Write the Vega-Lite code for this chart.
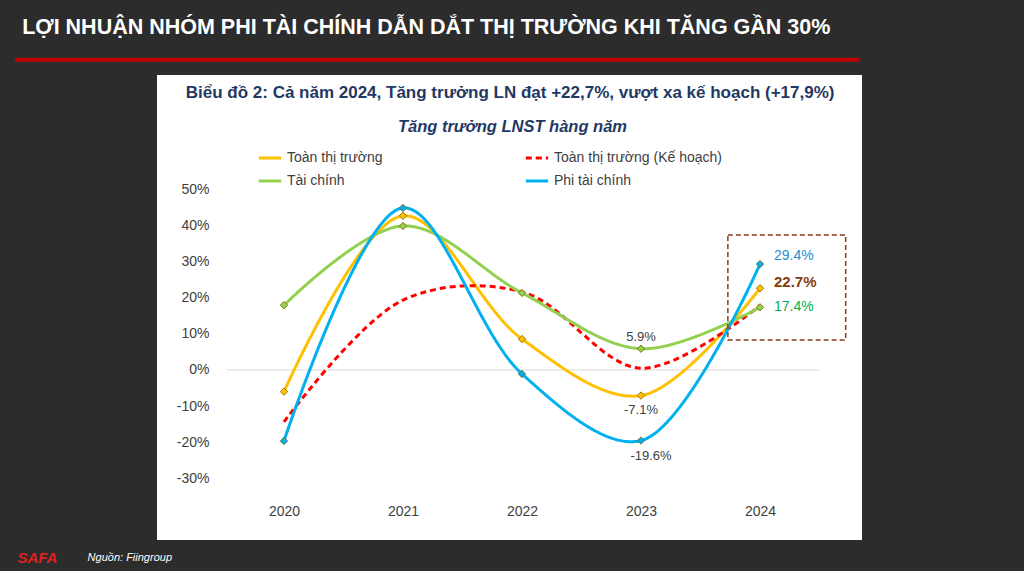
{
"$schema":"https://vega.github.io/schema/vega-lite/v6.json",
"autosize":{"type":"none"},
"width":705,"height":465,
"padding":{"left":157,"top":75,"right":162,"bottom":31},
"background":"#2c2c2c",
"config":{"view":{"fill":"#ffffff","stroke":null},"font":"Liberation Sans"},
"datasets":{
"s":[
{"year":2020,"series":"Toàn thị trường","v":-6},{"year":2021,"series":"Toàn thị trường","v":42.8},{"year":2022,"series":"Toàn thị trường","v":8.6},{"year":2023,"series":"Toàn thị trường","v":-7.1},{"year":2024,"series":"Toàn thị trường","v":22.7},
{"year":2020,"series":"Toàn thị trường (Kế hoạch)","v":-14.4},{"year":2021,"series":"Toàn thị trường (Kế hoạch)","v":19.4},{"year":2022,"series":"Toàn thị trường (Kế hoạch)","v":21.7},{"year":2023,"series":"Toàn thị trường (Kế hoạch)","v":0.5},{"year":2024,"series":"Toàn thị trường (Kế hoạch)","v":17.9},
{"year":2020,"series":"Tài chính","v":18},{"year":2021,"series":"Tài chính","v":40},{"year":2022,"series":"Tài chính","v":21.4},{"year":2023,"series":"Tài chính","v":5.9},{"year":2024,"series":"Tài chính","v":17.4},
{"year":2020,"series":"Phi tài chính","v":-19.7},{"year":2021,"series":"Phi tài chính","v":45},{"year":2022,"series":"Phi tài chính","v":-1.1},{"year":2023,"series":"Phi tài chính","v":-19.6},{"year":2024,"series":"Phi tài chính","v":29.4}
]
},
"layer":[
{"data":{"values":[{"x":2017.74,"x2":2024.84,"y":86.7,"y2":85.6}]},"mark":{"type":"rect","color":"#c00000","clip":false},
 "encoding":{"x":{"field":"x","type":"quantitative"},"x2":{"field":"x2"},"y":{"field":"y","type":"quantitative"},"y2":{"field":"y2"}}},
{"data":{"values":[{"x":2019.52,"x2":2024.5,"y":0}]},"mark":{"type":"rule","color":"#d9d9d9","strokeWidth":1},
 "encoding":{"x":{"field":"x","type":"quantitative"},"x2":{"field":"x2"},"y":{"field":"y","type":"quantitative"}}},
{"data":{"name":"s"},"mark":{"type":"line","interpolate":"catmull-rom","strokeWidth":3},
 "encoding":{
  "x":{"field":"year","type":"quantitative","scale":{"domain":[2018.933,2024.857],"nice":false,"zero":false},
   "axis":{"values":[2020,2021,2022,2023,2024],"format":"d","domain":false,"ticks":false,"grid":false,"labelPadding":0,"offset":-36,"labelFontSize":14,"labelColor":"#404040","title":null}},
  "y":{"field":"v","type":"quantitative","scale":{"domain":[-47.2,81.9],"nice":false,"zero":false},
   "axis":{"values":[-30,-20,-10,0,10,20,30,40,50],"labelExpr":"datum.value+'%'","domain":false,"ticks":false,"grid":false,"labelPadding":0,"offset":-52,"labelFontSize":14,"labelColor":"#404040","title":null}},
  "color":{"field":"series","type":"nominal","scale":{"domain":["Toàn thị trường","Tài chính","Toàn thị trường (Kế hoạch)","Phi tài chính"],"range":["#ffc000","#92d050","#ff0000","#00b0f0"]},
   "legend":{"orient":"none","legendX":100,"legendY":70,"columns":2,"title":null,"labelFontSize":14,"labelColor":"#404040","columnPadding":136,"rowPadding":3,"symbolSize":500,"symbolStrokeWidth":3,"labelLimit":300,"symbolType":"stroke"}},
  "strokeDash":{"field":"series","type":"nominal","scale":{"domain":["Toàn thị trường","Tài chính","Toàn thị trường (Kế hoạch)","Phi tài chính"],"range":[[1,0],[1,0],[6,4],[1,0]]},"legend":null}
 }},
{"data":{"name":"s"},"transform":[{"filter":"datum.series!='Toàn thị trường (Kế hoạch)'"}],
 "mark":{"type":"point","shape":"diamond","filled":true,"size":55,"stroke":"#7f6000","strokeWidth":0.8,"opacity":1},
 "encoding":{"x":{"field":"year","type":"quantitative"},"y":{"field":"v","type":"quantitative"},
  "fill":{"field":"series","type":"nominal","scale":{"domain":["Toàn thị trường","Tài chính","Toàn thị trường (Kế hoạch)","Phi tài chính"],"range":["#ffc000","#92d050","#ff0000","#00b0f0"]},"legend":null}}},
{"data":{"values":[{"x":2023.73,"x2":2024.72,"y":37.5,"y2":8.3}]},"mark":{"type":"rect","fill":null,"stroke":"#8b3a1f","strokeWidth":1.5,"strokeDash":[5,3]},
 "encoding":{"x":{"field":"x","type":"quantitative"},"x2":{"field":"x2"},"y":{"field":"y","type":"quantitative"},"y2":{"field":"y2"}}},
{"data":{"values":[{"year":2023,"v":5.9,"t":"5.9%"}]},"mark":{"type":"text","fontSize":13,"color":"#404040","dy":-12},
 "encoding":{"x":{"field":"year","type":"quantitative"},"y":{"field":"v","type":"quantitative"},"text":{"field":"t"}}},
{"data":{"values":[{"year":2023,"v":-7.1,"t":"-7.1%"}]},"mark":{"type":"text","fontSize":13,"color":"#404040","dy":14},
 "encoding":{"x":{"field":"year","type":"quantitative"},"y":{"field":"v","type":"quantitative"},"text":{"field":"t"}}},
{"data":{"values":[{"year":2023,"v":-19.6,"t":"-19.6%"}]},"mark":{"type":"text","fontSize":13,"color":"#404040","dy":15,"dx":10},
 "encoding":{"x":{"field":"year","type":"quantitative"},"y":{"field":"v","type":"quantitative"},"text":{"field":"t"}}},
{"data":{"values":[{"year":2024,"v":29.4,"t":"29.4%"}]},"mark":{"type":"text","fontSize":14,"color":"#1f8fd0","dy":-8,"dx":14,"align":"left"},
 "encoding":{"x":{"field":"year","type":"quantitative"},"y":{"field":"v","type":"quantitative"},"text":{"field":"t"}}},
{"data":{"values":[{"year":2024,"v":22.7,"t":"22.7%"}]},"mark":{"type":"text","fontSize":15,"fontWeight":"bold","color":"#843c0c","dy":-6,"dx":14,"align":"left"},
 "encoding":{"x":{"field":"year","type":"quantitative"},"y":{"field":"v","type":"quantitative"},"text":{"field":"t"}}},
{"data":{"values":[{"year":2024,"v":17.4,"t":"17.4%"}]},"mark":{"type":"text","fontSize":14,"color":"#00b050","dx":14,"align":"left"},
 "encoding":{"x":{"field":"year","type":"quantitative"},"y":{"field":"v","type":"quantitative"},"text":{"field":"t"}}},
{"data":{"values":[{"x":2017.8,"y":95,"t":"LỢI NHUẬN NHÓM PHI TÀI CHÍNH DẪN DẮT THỊ TRƯỜNG KHI TĂNG GẦN 30%"}]},"mark":{"type":"text","clip":false,"align":"left","baseline":"middle","fontSize":21.5,"fontWeight":"bold","color":"#ffffff"},
 "encoding":{"x":{"field":"x","type":"quantitative"},"y":{"field":"y","type":"quantitative"},"text":{"field":"t"}}},
{"data":{"values":[{"x":2021.9,"y":76.9,"t":"Biểu đồ 2: Cả năm 2024, Tăng trưởng LN đạt +22,7%, vượt xa kế hoạch (+17,9%)"}]},"mark":{"type":"text","baseline":"middle","fontSize":17,"fontWeight":"bold","color":"#1f3864"},
 "encoding":{"x":{"field":"x","type":"quantitative"},"y":{"field":"y","type":"quantitative"},"text":{"field":"t"}}},
{"data":{"values":[{"x":2021.92,"y":67.5,"t":"Tăng trưởng LNST hàng năm"}]},"mark":{"type":"text","baseline":"middle","fontSize":16.5,"fontWeight":"bold","fontStyle":"italic","color":"#1f3864"},
 "encoding":{"x":{"field":"x","type":"quantitative"},"y":{"field":"y","type":"quantitative"},"text":{"field":"t"}}},
{"data":{"values":[{"x":2018.35,"y":-52.2,"t":"Nguồn: Fiingroup"}]},"mark":{"type":"text","clip":false,"align":"left","baseline":"middle","fontSize":11,"fontStyle":"italic","color":"#ffffff"},
 "encoding":{"x":{"field":"x","type":"quantitative"},"y":{"field":"y","type":"quantitative"},"text":{"field":"t"}}},
{"data":{"values":[{"x":2017.76,"y":-52.2,"t":"SAFA"}]},"mark":{"type":"text","clip":false,"align":"left","baseline":"middle","fontSize":15,"fontWeight":"bold","fontStyle":"italic","color":"#e02020"},
 "encoding":{"x":{"field":"x","type":"quantitative"},"y":{"field":"y","type":"quantitative"},"text":{"field":"t"}}}
]
}
